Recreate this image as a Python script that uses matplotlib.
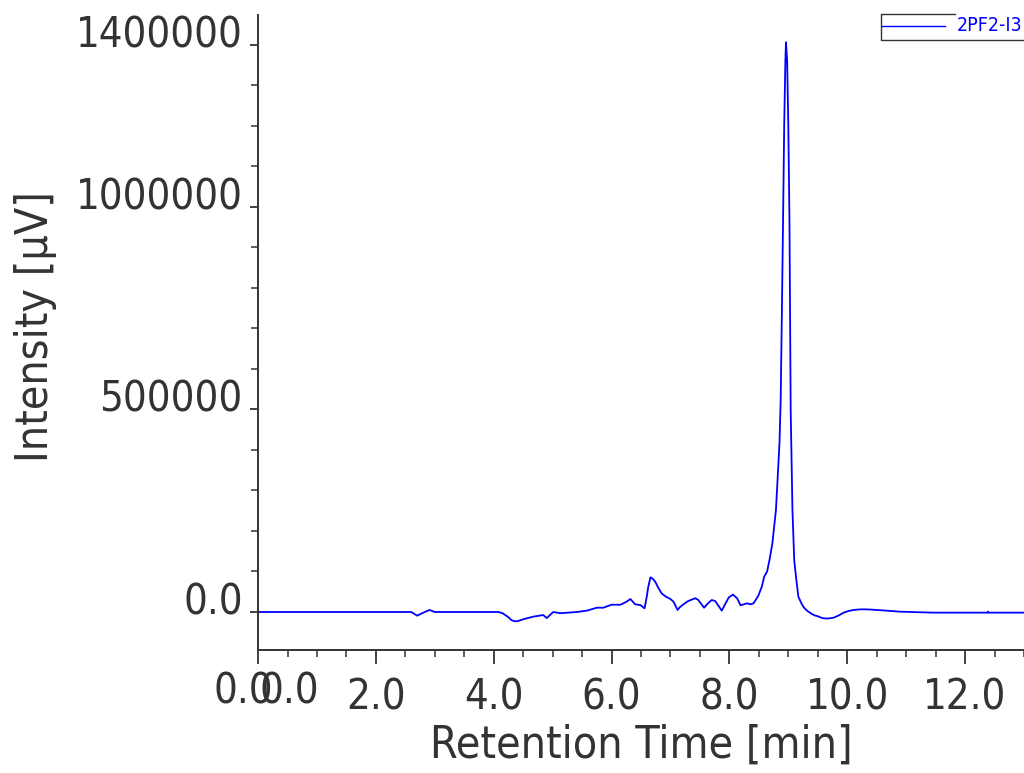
import matplotlib
matplotlib.use("Agg")
import matplotlib.pyplot as plt
import matplotlib.transforms as mtransforms
from matplotlib.lines import Line2D
from matplotlib.ticker import MultipleLocator, FixedLocator, FixedFormatter

# chromatogram trace, 2PF2-I3
time_min = [0.0, 1.0, 2.0, 2.6, 2.70, 2.80, 2.91, 3.00, 3.5, 4.08, 4.15, 4.25,
            4.30, 4.36, 4.42, 4.50, 4.67, 4.84, 4.90, 5.01, 5.13, 5.41, 5.58,
            5.75, 5.86, 6.00, 6.15, 6.25, 6.32, 6.40, 6.49, 6.56, 6.60, 6.62,
            6.66, 6.70, 6.74, 6.80, 6.85, 6.92, 7.00, 7.05, 7.09, 7.12, 7.16,
            7.22, 7.30, 7.42, 7.47, 7.57, 7.64, 7.70, 7.76, 7.87, 7.93, 7.99,
            8.06, 8.13, 8.19, 8.30, 8.36, 8.41, 8.49, 8.55, 8.59, 8.64, 8.68,
            8.73, 8.79, 8.82, 8.85, 8.87, 8.89, 8.91, 8.93, 8.95, 8.96, 8.98,
            9.00, 9.02, 9.04, 9.06, 9.07, 9.09, 9.10, 9.13, 9.15, 9.17, 9.23,
            9.27, 9.32, 9.36, 9.40, 9.45, 9.51, 9.55, 9.60, 9.68, 9.77, 9.85,
            9.94, 10.02, 10.11, 10.20, 10.28, 10.40, 10.50, 10.70, 10.90, 11.20,
            11.47, 12.38, 12.39, 12.40, 13.0]
intensity_uv = [0, 0, 0, 0, -9000, -2000, 5000, 0, 0, 0, -3000, -13000,
                -20000, -23000, -22000, -18000, -11500, -7500, -15000, 0, -3000,
                0, 3300, 10600, 10600, 18000, 18000, 25000, 32000, 19000, 17000,
                9000, 40000, 60000, 85700, 82000, 75000, 58000, 46000, 38000,
                32000, 25500, 14000, 5000, 12000, 19000, 27000, 34000, 30000,
                10600, 22000, 29600, 27000, 3300, 20000, 36000, 43000, 34000,
                16500, 21500, 19000, 21500, 40000, 62500, 87000, 100000, 128000,
                170000, 252000, 334000, 417000, 520000, 730000, 960000, 1200000,
                1360000, 1406000, 1360000, 1200000, 955000, 499000, 334000,
                252000, 170000, 128000, 87000, 62500, 37800, 19000, 10000, 3000,
                -1000, -5000, -8500, -11000, -13500, -15600, -16000, -14000,
                -9000, -1600, 2500, 5000, 6300, 6600, 6000, 5000, 3000, 800,
                -500, -1600, -1600, 1000, -1600, -1600]

y_major = [0, 500000, 1000000, 1400000]
y_major_labels = ["0.0", "500000", "1000000", "1400000"]
x_major = [0, 2, 4, 6, 8, 10, 12]

ink = "#333333"
plt.rcParams["font.family"] = "DejaVu Sans"
plt.rcParams["font.stretch"] = "condensed"

fig = plt.figure(figsize=(10.24, 7.73), dpi=100)
ax = fig.add_axes([0.252, 0.159, 0.748, 0.822])

line, = ax.plot(time_min, intensity_uv, color="#0000ff", lw=1.3, label="2PF2-I3")

ax.set_xlim(0, 13)
ax.set_ylim(-94000, 1474000)

for s in ("top", "right"):
    ax.spines[s].set_visible(False)
for s in ("left", "bottom"):
    ax.spines[s].set_color(ink)
    ax.spines[s].set_linewidth(1.4)

ax.xaxis.set_major_locator(FixedLocator(x_major))
ax.xaxis.set_minor_locator(MultipleLocator(0.5))
ax.set_xticklabels(["" if v == 0 else f"{v:.1f}" for v in x_major])
ax.yaxis.set_major_locator(FixedLocator(y_major))
ax.yaxis.set_major_formatter(FixedFormatter(y_major_labels))
ax.yaxis.set_minor_locator(MultipleLocator(100000))

ax.tick_params(axis="x", which="major", length=10, width=1.3, color=ink,
               labelsize=30, labelcolor=ink, pad=9)
ax.tick_params(axis="x", which="minor", length=5, width=1.1, color=ink)
ax.tick_params(axis="y", which="major", length=6, width=1.3, color=ink,
               labelsize=30, labelcolor=ink, pad=5)
ax.tick_params(axis="y", which="minor", length=5, width=1.1, color=ink)

# y labels sit a little above their ticks
lift = mtransforms.ScaledTranslation(0, 10 / 72, fig.dpi_scale_trans)
for lab in ax.get_yticklabels():
    lab.set_transform(lab.get_transform() + lift)

# doubled zero label at the origin
xt = ax.get_xaxis_transform()
for dx in (-15, 31):
    off = mtransforms.ScaledTranslation(dx / 100, -20 / 100, fig.dpi_scale_trans)
    ax.text(0, 0, "0.0", transform=xt + off, ha="center", va="top",
            fontsize=30, color=ink, clip_on=False)

ax.set_xlabel("Retention Time [min]", fontsize=32, color=ink)
ax.set_ylabel("Intensity [µV]", fontsize=32, color=ink)
ax.xaxis.set_label_coords(0.5, -0.115)
ax.yaxis.set_label_coords(-0.262, 0.509)

# legend box in the top right corner
ft = fig.transFigure
fig.add_artist(Line2D([0.933, 0.860, 0.860, 0.999], [0.9815, 0.9815, 0.948, 0.948],
                      transform=ft, color=ink, lw=1.0))
fig.add_artist(Line2D([0.861, 0.923], [0.9668, 0.9668], transform=ft,
                      color=line.get_color(), lw=1.0))
fig.text(0.9346, 0.967, line.get_label(), transform=ft, ha="left", va="center",
         fontsize=14, color="#0000ff")

fig.savefig("out.png", dpi=100)
